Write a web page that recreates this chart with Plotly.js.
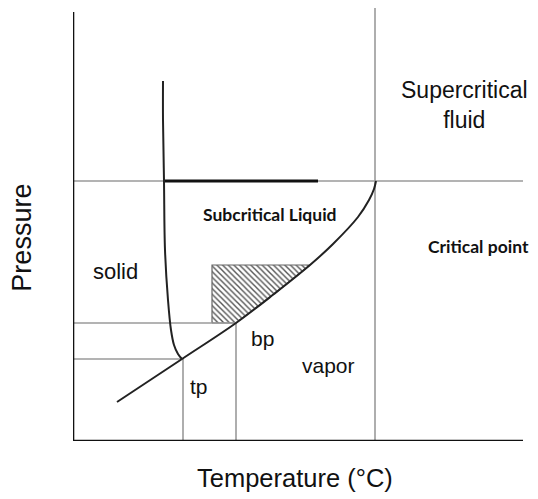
<!DOCTYPE html>
<html>
<head>
<meta charset="utf-8">
<script src="https://cdn.plot.ly/plotly-3.0.1.min.js"></script>
<style>html,body{margin:0;padding:0;background:#fff;}#chart{width:538px;height:499px;}</style>
</head>
<body>
<div id="chart"></div>
<script>
// Phase diagram (arbitrary units: temperature, pressure)
var meltT = [90, 90, 91, 92, 95, 98, 101, 105, 109];
var meltP = [360, 321, 260, 191, 141, 111, 96, 87, 82];

var vapT = [44, 109, 163, 201, 237, 260, 285, 296, 301, 303];
var vapP = [39, 82, 118, 147, 176, 197, 224, 241, 252, 260];

var tripleT = 109, tripleP = 82;
var bpT = 163, bpP = 118;
var critT = 303, critP = 260;
var subcritStartT = 90, subcritEndT = 245;
var hatchLeftT = 139, hatchTopP = 176;
var axisTmax = 450, axisPmax = 429, topP = 433;

var hatchT = [hatchLeftT, hatchLeftT, 237, 201, bpT, hatchLeftT];
var hatchP = [bpP, hatchTopP, hatchTopP, 147, bpP, bpP];

var labels = ["Supercritical<br>fluid", "Subcritical Liquid", "Critical point", "solid", "bp", "vapor", "tp"];
var labelT = [391, 197, 405, 42, 189, 255, 126];
var labelP = [336, 227, 195, 170, 103, 76, 55];

var grey = '#9a9a9a';
function seg(x, y, color, width) {
  return {x: x, y: y, mode: 'lines', line: {color: color, width: width}, hoverinfo: 'skip', showlegend: false};
}
var traces = [
  // hatched region
  {x: hatchT, y: hatchP, mode: 'lines', fill: 'toself', fillcolor: 'white',
   fillpattern: {shape: '\\', size: 4, solidity: 0.35, fgcolor: '#555', bgcolor: 'white'},
   line: {color: '#666', width: 1.2}, hoverinfo: 'skip', showlegend: false},
  // grey guide lines
  seg([0, subcritStartT], [critP, critP], grey, 1.6),
  seg([subcritEndT, axisTmax + 4], [critP, critP], grey, 1.6),
  seg([critT - 1, critT - 1], [0, topP], grey, 1.6),
  seg([0, bpT], [bpP, bpP], grey, 1.6),
  seg([bpT, bpT], [0, bpP], grey, 1.6),
  seg([0, tripleT], [tripleP, tripleP], grey, 1.6),
  seg([tripleT + 1, tripleT + 1], [0, tripleP], grey, 1.6),
  // subcritical thick line
  seg([subcritStartT, subcritEndT], [critP, critP], '#111', 3),
  // curves
  {x: meltT, y: meltP, mode: 'lines', line: {color: '#222', width: 2, shape: 'spline'}, hoverinfo: 'skip', showlegend: false},
  {x: vapT, y: vapP, mode: 'lines', line: {color: '#222', width: 2, shape: 'spline'}, hoverinfo: 'skip', showlegend: false},
  // axes
  seg([0, 0], [0, axisPmax], '#111', 2.6),
  seg([0, axisTmax], [0, 0], '#111', 2.6)
];

var bold = ["Subcritical Liquid", "Critical point"];
var annotations = labels.map(function (t, i) {
  var isBold = bold.indexOf(t) >= 0;
  return {
    x: labelT[i], y: labelP[i], xref: 'x', yref: 'y', text: isBold ? '<b>' + t + '</b>' : t,
    showarrow: false, xanchor: 'center', yanchor: 'middle',
    font: isBold ? {family: 'Lato, sans-serif', size: 17.5, color: '#111'}
                 : {family: 'Liberation Sans, Arial, sans-serif', size: (i === 0 ? 23 : (i === 3 ? 22 : 21)), color: '#111'}
  };
});
annotations.push({text: 'Temperature (°C)', xref: 'paper', yref: 'paper', x: 0.493, y: -0.085,
  xanchor: 'center', yanchor: 'middle', showarrow: false,
  font: {family: 'Liberation Sans, Arial, sans-serif', size: 25.5, color: '#111'}});
annotations.push({text: 'Pressure', xref: 'paper', yref: 'paper', x: -0.113, y: 0.47, textangle: -90,
  xanchor: 'center', yanchor: 'middle', showarrow: false,
  font: {family: 'Liberation Sans, Arial, sans-serif', size: 27, color: '#111'}});

var layout = {
  width: 538, height: 499,
  margin: {l: 73, r: 15, t: 8, b: 58},
  paper_bgcolor: 'white', plot_bgcolor: 'white',
  showlegend: false,
  xaxis: {range: [0, axisTmax], showgrid: false, zeroline: false, showticklabels: false, ticks: '', showline: false, fixedrange: true},
  yaxis: {range: [0, topP], showgrid: false, zeroline: false, showticklabels: false, ticks: '', showline: false, fixedrange: true},
  annotations: annotations
};
Plotly.newPlot('chart', traces, layout, {displayModeBar: false, staticPlot: true});
</script>
</body>
</html>
